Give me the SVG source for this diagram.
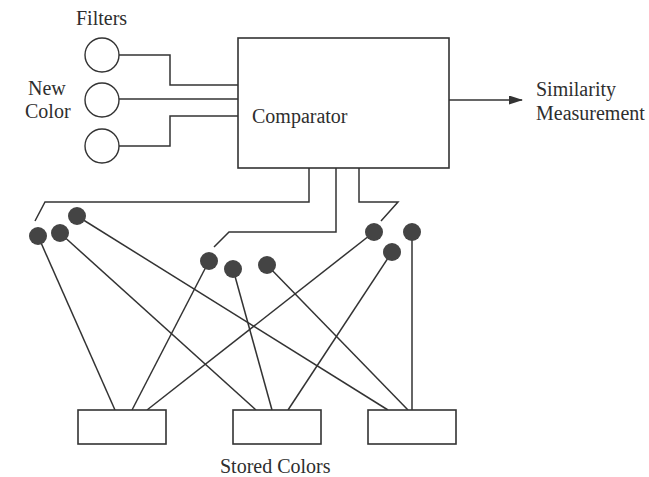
<svg xmlns="http://www.w3.org/2000/svg" width="649" height="477" viewBox="0 0 649 477">
  <style>
    .ln { fill: none; stroke: #333; stroke-width: 1.5; }
    .box { fill: #fff; stroke: #333; stroke-width: 1.6; }
    .flt { fill: #fff; stroke: #333; stroke-width: 1.4; }
    .dot { fill: #444; stroke: none; }
    .lbl { font-family: "Liberation Serif", "Times New Roman", serif; font-size: 20px; fill: #2e2e2e; }
  </style>
  <defs>
    <marker id="arrow" markerWidth="14" markerHeight="9" refX="13" refY="4.5" orient="auto" markerUnits="userSpaceOnUse">
      <path d="M0,0 L14,4.5 L0,9 Z" fill="#333"/>
    </marker>
  </defs>
  <rect width="649" height="477" fill="#fff"/>

  <!-- connectors -->
  <g id="connectors">
    <!-- filters into comparator -->
    <polyline class="ln" points="119,55 170,55 170,85 238,85"/>
    <line class="ln" x1="119" y1="99" x2="238" y2="99"/>
    <polyline class="ln" points="119,146 170,146 170,116 238,116"/>
    <!-- output -->
    <line class="ln" x1="449" y1="100" x2="522" y2="100" marker-end="url(#arrow)"/>
    <!-- comparator to stored-colour buses -->
    <polyline class="ln" points="309,168 309,202 45,202 35,221"/>
    <polyline class="ln" points="336,168 336,232 229,232 214,247"/>
    <polyline class="ln" points="359,168 359,202 398,202 381,221"/>
    <!-- filter taps to stored colours -->
    <line class="ln" x1="38" y1="236" x2="115" y2="410"/>
    <line class="ln" x1="209" y1="261" x2="132" y2="410"/>
    <line class="ln" x1="374" y1="232" x2="147" y2="410"/>
    <line class="ln" x1="60" y1="233" x2="256" y2="410"/>
    <line class="ln" x1="233" y1="269" x2="272" y2="410"/>
    <line class="ln" x1="392" y1="252" x2="288" y2="410"/>
    <line class="ln" x1="77" y1="216" x2="388" y2="410"/>
    <line class="ln" x1="267" y1="265" x2="408" y2="410"/>
    <line class="ln" x1="412" y1="232" x2="412" y2="410"/>
  </g>

  <!-- filters -->
  <g id="filter-1"><circle class="flt" cx="102" cy="55" r="17"/></g>
  <g id="filter-2"><circle class="flt" cx="102" cy="100" r="17"/></g>
  <g id="filter-3"><circle class="flt" cx="102" cy="146" r="17"/></g>
  <g id="filters-label"><text class="lbl" x="76" y="25">Filters</text></g>
  <g id="new-color-label">
    <text class="lbl" x="28" y="95">New</text>
    <text class="lbl" x="25" y="118">Color</text>
  </g>

  <!-- comparator -->
  <g id="comparator">
    <rect class="box" x="238" y="38" width="211" height="130"/>
    <text class="lbl" x="252" y="123">Comparator</text>
  </g>

  <g id="similarity-label">
    <text class="lbl" x="536" y="96">Similarity</text>
    <text class="lbl" x="536" y="120">Measurement</text>
  </g>

  <!-- filter taps -->
  <g id="tap-a"><circle class="dot" cx="38" cy="236" r="9"/></g>
  <g id="tap-b"><circle class="dot" cx="60" cy="233" r="9"/></g>
  <g id="tap-c"><circle class="dot" cx="77" cy="216" r="9"/></g>
  <g id="tap-d"><circle class="dot" cx="209" cy="261" r="9"/></g>
  <g id="tap-e"><circle class="dot" cx="233" cy="269" r="9"/></g>
  <g id="tap-f"><circle class="dot" cx="267" cy="265" r="9"/></g>
  <g id="tap-g"><circle class="dot" cx="374" cy="232" r="9"/></g>
  <g id="tap-h"><circle class="dot" cx="392" cy="252" r="9"/></g>
  <g id="tap-i"><circle class="dot" cx="412" cy="232" r="9"/></g>

  <!-- stored colours -->
  <g id="stored-1"><rect class="box" x="78" y="410" width="88" height="34"/></g>
  <g id="stored-2"><rect class="box" x="233" y="410" width="88" height="34"/></g>
  <g id="stored-3"><rect class="box" x="368" y="410" width="88" height="34"/></g>
  <g id="stored-label"><text class="lbl" x="220" y="473">Stored Colors</text></g>
</svg>
